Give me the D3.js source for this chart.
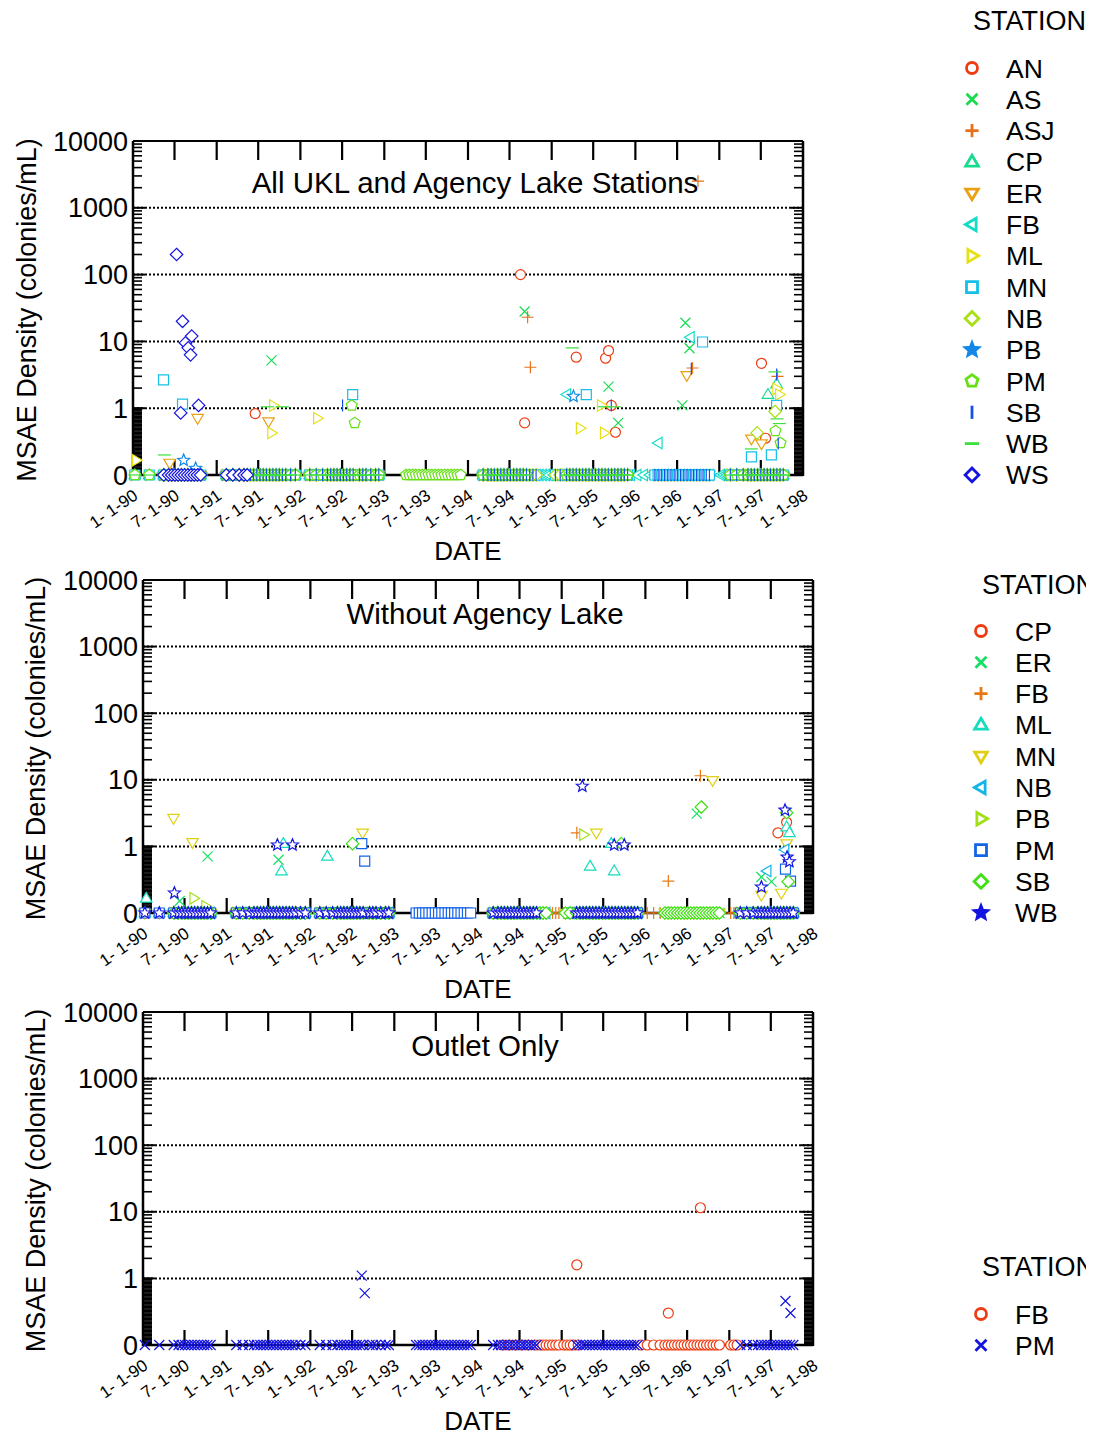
<!DOCTYPE html>
<html>
<head>
<meta charset="utf-8">
<script src="https://cdn.jsdelivr.net/npm/d3@7"></script>
<style>
  body { margin: 0; background: #fff; }
  svg text { font-family: "Liberation Sans", Arial, sans-serif; fill: #000; }
</style>
</head>
<body>
<div id="chart"></div>
<script>
var trips90w = ["90-01-09", "90-03-13"];
var trips90 = ["90-05-15", "90-06-05", "90-06-19", "90-07-03", "90-07-17", "90-07-31", "90-08-14",
  "90-08-28", "90-09-11", "90-09-25", "90-10-09", "90-10-23"];
var trips91 = ["91-02-12", "91-03-12", "91-04-09", "91-04-30", "91-05-14", "91-05-28", "91-06-11",
  "91-06-25", "91-07-09", "91-07-23", "91-08-06", "91-08-20", "91-09-03", "91-09-17", "91-10-01",
  "91-10-15", "91-10-29", "91-11-19", "91-12-10"];
var trips92 = ["92-02-11", "92-03-10", "92-04-07", "92-04-28", "92-05-12", "92-05-26", "92-06-09",
  "92-06-23", "92-07-07", "92-07-21", "92-08-04", "92-08-18", "92-09-15", "92-09-29",
  "92-10-13", "92-11-03", "92-11-24", "92-12-08"];
var trips93 = ["93-04-06", "93-04-20", "93-05-04", "93-05-18", "93-06-01", "93-06-15", "93-06-29",
  "93-07-13", "93-07-27", "93-08-10", "93-08-24", "93-09-07", "93-09-21", "93-10-05", "93-10-19",
  "93-11-02", "93-11-16", "93-11-30"];
var trips94 = ["94-03-08", "94-03-29", "94-04-12", "94-04-26", "94-05-10", "94-05-24", "94-06-07",
  "94-06-21", "94-07-05", "94-07-19", "94-08-02", "94-08-16", "94-08-30", "94-09-13"];
var trips94b = ["94-09-27", "94-10-11", "94-10-25", "95-01-17", "95-02-07"];
var tripsFB94 = ["94-04-19", "94-05-17", "94-06-14", "94-07-12", "94-08-09", "94-09-06", "94-09-27",
  "94-10-11", "94-10-25", "94-11-08", "94-11-22", "94-12-06", "94-12-20", "95-01-10", "95-01-24",
  "95-02-07", "95-02-21", "95-03-14"];
var trips95 = ["95-03-07", "95-03-21", "95-04-04", "95-04-18", "95-05-02", "95-05-16", "95-05-30",
  "95-06-13", "95-06-27", "95-07-11", "95-07-25", "95-08-08", "95-08-22", "95-09-05", "95-09-19",
  "95-10-03", "95-10-17", "95-10-31", "95-11-14", "95-11-28"];
var tripsFB96 = ["95-12-12", "96-01-09", "96-02-06", "96-03-05"];
var trips96 = ["96-03-26", "96-04-09", "96-04-23", "96-05-07", "96-05-21", "96-06-04", "96-06-18",
  "96-07-02", "96-07-16", "96-07-30", "96-08-13", "96-08-27", "96-09-10", "96-09-24", "96-10-08",
  "96-10-22", "96-11-05", "96-11-19"];
var tripsFB97 = ["97-01-07", "97-01-21", "97-02-04"];
var trips97 = ["97-02-18", "97-03-18", "97-04-15", "97-05-06", "97-05-20", "97-06-03", "97-06-17",
  "97-07-01", "97-07-15", "97-07-29", "97-08-12", "97-08-26", "97-09-09", "97-09-23", "97-10-07"];

// which trips each station was on
var tripsAN = [trips94, trips95, trips96, trips97];
var tripsAS = [trips91, trips94, trips95, trips96, trips97];
var tripsASJ = [trips94, trips95, trips96, trips97];
var tripsCP = [trips90w, trips90, trips91, trips92, trips94, trips95, trips97];
var tripsER = [trips90, trips91, trips92, trips94, trips95, trips96, trips97];
var tripsFB = [tripsFB94, tripsFB96, trips96, tripsFB97];
var tripsML = [trips90w, trips90, trips91, trips92, trips94, trips95, trips97];
var tripsMN = [trips90w, trips90, trips91, trips92, trips94, trips94b, trips95, trips96, trips97];
var tripsNB = [trips90, trips91, trips92, trips94, trips94b, trips95, trips97];
var tripsPB = [trips90, trips91, trips92, trips94, trips95, trips97];
var tripsPM = [trips90w, trips90, trips91, trips92, trips93, trips94, trips95, trips97];
var tripsSB = [trips90, trips91, trips92, trips94, trips94b, trips95, trips96, trips97];
var tripsWB = [trips90w, trips90, trips91, trips92, trips94, trips95, trips97];
var tripsWS = [trips90, trips91.slice(0, 5)];

// non-zero densities (colonies/mL)
var valAN = [["91-06-18", 0.92], ["94-08-18", 100], ["94-09-05", 0.78], ["95-04-18", 5.8], ["95-08-24", 5.6],
  ["95-09-06", 7.3], ["95-09-18", 1.1], ["95-10-06", 0.64], ["97-07-04", 4.7], ["97-07-22", 0.55]];
var valAS = [["91-08-28", 5.2], ["94-09-05", 28], ["95-09-06", 2.1], ["95-10-18", 0.78], ["96-07-24", 1.1],
  ["96-08-06", 19], ["96-08-24", 7.9]];
var valASJ = [["94-09-18", 23], ["94-09-30", 4.1], ["96-09-06", 4], ["96-09-30", 2500], ["97-09-12", 3.0]];
var valCP = [["97-08-01", 1.6], ["97-09-08", 2.3]];
var valER = [["90-06-10", 0.18], ["90-10-10", 0.85], ["91-08-15", 0.8], ["96-08-12", 3.1], ["97-05-21", 0.54],
  ["97-07-04", 0.47]];
var valFB = [["95-03-08", 1.6], ["96-04-10", 0.48], ["96-08-28", 11.5]];
var valML = [["90-01-15", 0.22], ["91-08-28", 0.63], ["91-09-05", 1.1], ["92-03-15", 0.85], ["95-05-05", 0.7],
  ["95-08-05", 1.1], ["95-08-18", 0.63], ["97-09-08", 1.95], ["97-09-20", 1.6]];
var valMN = [["90-05-14", 2.65], ["90-08-05", 1.15], ["92-08-16", 1.6], ["95-06-01", 1.6], ["96-10-20", 9.8],
  ["97-05-21", 0.27], ["97-08-16", 0.3], ["97-09-08", 1.1]];
var valNB = [["97-06-15", 0.63], ["97-09-01", 0.95]];
var valPB = [["90-08-10", 0.22], ["90-10-01", 0.1], ["95-04-06", 1.5]];
var valPM = [["92-08-12", 1.1], ["92-08-25", 0.78], ["97-09-03", 0.66], ["97-09-25", 0.48]];
var valSB = [["92-07-03", 1.1], ["95-09-18", 1.1], ["96-09-01", 3.9], ["97-09-08", 3.2], ["97-09-15", 0.47]];
var valWB = [["90-05-18", 0.3], ["91-08-10", 1.05], ["91-10-15", 1.05], ["95-04-01", 8], ["95-08-18", 1.05],
  ["95-10-01", 1.05], ["97-05-21", 0.39], ["97-09-01", 3.5], ["97-09-10", 0.84], ["97-09-20", 0.77]];
var valWS = [["90-07-10", 200], ["90-07-28", 0.93], ["90-08-05", 20], ["90-08-18", 9.5], ["90-08-30", 8],
  ["90-09-09", 6.3], ["90-09-14", 12], ["90-10-14", 1.1]];

var stationTrips = { AN: tripsAN, AS: tripsAS, ASJ: tripsASJ, CP: tripsCP, ER: tripsER, FB: tripsFB, ML: tripsML,
  MN: tripsMN, NB: tripsNB, PB: tripsPB, PM: tripsPM, SB: tripsSB, WB: tripsWB, WS: tripsWS };
var stationValues = { AN: valAN, AS: valAS, ASJ: valASJ, CP: valCP, ER: valER, FB: valFB, ML: valML,
  MN: valMN, NB: valNB, PB: valPB, PM: valPM, SB: valSB, WB: valWB, WS: valWS };

var stationsAll = ["AN", "AS", "ASJ", "CP", "ER", "FB", "ML", "MN", "NB", "PB", "PM", "SB", "WB", "WS"];
var stationsLake = ["CP", "ER", "FB", "ML", "MN", "NB", "PB", "PM", "SB", "WB"];
var stationsOutlet = ["FB", "PM"];

var coloursAll = ["#ee3c12", "#18dc50", "#e87018", "#14dc8c", "#e8a014", "#14dcc8", "#e6e014", "#14c0e8",
  "#a8e014", "#1488e8", "#64e014", "#1450e8", "#3ce03c", "#1414e0"];
var coloursLake = ["#ee3c12", "#14e064", "#e87814", "#14dcbc", "#e0d014", "#14b4e8", "#a0e014", "#1464e8",
  "#40e014", "#1414e0"];
var coloursOutlet = ["#ee3c12", "#1414e0"];

var symbolOrder = ["circle", "x", "plus", "triUp", "triDown", "triLeft", "triRight", "square", "diamond",
  "star", "pentagon", "vbar", "hbar", "diamond"];

var yTickValues = [0, 1, 10, 100, 1000, 10000];
var yTickLabels = ["0", "1", "10", "100", "1000", "10000"];
var gridValues = [1, 10, 100, 1000];

var panels = [
  { title: "All UKL and Agency Lake Stations", stations: stationsAll, colours: coloursAll,
    x0: 133, x1: 803, y0: 475, ytop: 141, titleY: 193, ylabX: 36, legX: 972, legY: 68,
    legTitleX: 973, legTitleY: 30, clipX: 1102 },
  { title: "Without Agency Lake", stations: stationsLake, colours: coloursLake,
    x0: 143, x1: 813, y0: 913, ytop: 580, titleY: 624, ylabX: 45, legX: 981, legY: 631,
    legTitleX: 982, legTitleY: 594, clipX: 1086 },
  { title: "Outlet Only", stations: stationsOutlet, colours: coloursOutlet,
    x0: 143, x1: 813, y0: 1345, ytop: 1012, titleY: 1056, ylabX: 45, legX: 981, legY: 1314,
    legTitleX: 982, legTitleY: 1276, clipX: 1086 }
];

var width = 1102, height = 1435;
var parseDate = d3.timeParse("%y-%m-%d");
var fmt = d3.timeFormat("%-m-%e-%y");
var start = new Date(1990, 0, 1), end = new Date(1998, 0, 1);
var halfYears = d3.timeMonth.every(6).range(start, d3.timeDay.offset(end, 1));

function tv(v) { return v < 1 ? v : 1 + Math.log10(v); }

function poly(pts) {
  return "M" + pts.map(function (p) { return p[0].toFixed(2) + "," + p[1].toFixed(2); }).join("L") + "Z";
}

function symbolPath(type, r) {
  var i, pts;
  switch (type) {
    case "circle":
      return "M" + r + ",0A" + r + "," + r + " 0 1,1 " + (-r) + ",0A" + r + "," + r + " 0 1,1 " + r + ",0Z";
    case "x":
      return "M" + (-r) + "," + (-r) + "L" + r + "," + r + "M" + (-r) + "," + r + "L" + r + "," + (-r);
    case "plus":
      return "M" + (-r * 1.2) + ",0L" + (r * 1.2) + ",0M0," + (-r * 1.2) + "L0," + (r * 1.2);
    case "triUp":
      return poly([[0, -r * 1.2], [r * 1.15, r * 0.75], [-r * 1.15, r * 0.75]]);
    case "triDown":
      return poly([[0, r * 1.2], [r * 1.15, -r * 0.75], [-r * 1.15, -r * 0.75]]);
    case "triLeft":
      return poly([[-r * 1.2, 0], [r * 0.75, -r * 1.15], [r * 0.75, r * 1.15]]);
    case "triRight":
      return poly([[r * 1.2, 0], [-r * 0.75, -r * 1.15], [-r * 0.75, r * 1.15]]);
    case "square":
      return poly([[-r, -r], [r, -r], [r, r], [-r, r]]);
    case "diamond":
      return poly([[0, -r * 1.25], [r * 1.25, 0], [0, r * 1.25], [-r * 1.25, 0]]);
    case "star":
      pts = [];
      for (i = 0; i < 10; i++) {
        var a = -Math.PI / 2 + i * Math.PI / 5, rr = i % 2 ? r * 0.55 : r * 1.25;
        pts.push([rr * Math.cos(a), rr * Math.sin(a)]);
      }
      return poly(pts);
    case "pentagon":
      pts = [];
      for (i = 0; i < 5; i++) {
        var b = -Math.PI / 2 + i * 2 * Math.PI / 5;
        pts.push([r * 1.15 * Math.cos(b), r * 1.15 * Math.sin(b)]);
      }
      return poly(pts);
    case "vbar":
      return "M0," + (-r * 1.2) + "L0," + (r * 1.2);
    case "hbar":
      return "M" + (-r * 1.3) + ",0L" + (r * 1.3) + ",0";
  }
}

function stationPoints(name) {
  var pts = [];
  stationTrips[name].forEach(function (list) {
    list.forEach(function (d) { pts.push({ date: parseDate(d), value: 0 }); });
  });
  stationValues[name].forEach(function (d) { pts.push({ date: parseDate(d[0]), value: d[1] }); });
  return pts;
}

var svg = d3.select("#chart").append("svg")
  .attr("width", width)
  .attr("height", height);

var defs = svg.append("defs");

panels.forEach(function (p, pi) {
  var g = svg.append("g");
  var x = d3.scaleTime().domain([start, end]).range([p.x0, p.x1]);
  var y = d3.scaleLinear().domain([0, 5]).range([p.y0, p.ytop]);

  //dotted grid
  g.selectAll(".grid")
    .data(gridValues)
  .enter().append("line")
    .attr("x1", p.x0).attr("x2", p.x1)
    .attr("y1", function (d) { return y(tv(d)); })
    .attr("y2", function (d) { return y(tv(d)); })
    .attr("stroke", "#000").attr("stroke-width", 2).attr("stroke-dasharray", "2,2");

  //minor ticks on both sides
  var minor = [];
  for (var k = 0; k <= 50; k++) minor.push(k / 50);
  [1, 10, 100, 1000].forEach(function (dec) {
    for (var m = 2; m <= 9; m++) minor.push(tv(dec * m));
  });
  var major = [1, 2, 3, 4, 5];
  [[p.x0, 1], [p.x1, -1]].forEach(function (side) {
    g.selectAll(null)
      .data(minor)
    .enter().append("line")
      .attr("x1", side[0]).attr("x2", side[0] + side[1] * 9)
      .attr("y1", function (d) { return y(d); }).attr("y2", function (d) { return y(d); })
      .attr("stroke", "#000").attr("stroke-width", 1.6);
    g.selectAll(null)
      .data(major)
    .enter().append("line")
      .attr("x1", side[0]).attr("x2", side[0] + side[1] * 12)
      .attr("y1", function (d) { return y(d); }).attr("y2", function (d) { return y(d); })
      .attr("stroke", "#000").attr("stroke-width", 2);
  });

  //x ticks top and bottom
  var inner = halfYears.slice(1, halfYears.length - 1);
  g.selectAll(null)
    .data(inner)
  .enter().append("line")
    .attr("x1", function (d) { return x(d); }).attr("x2", function (d) { return x(d); })
    .attr("y1", p.y0).attr("y2", p.y0 - 15)
    .attr("stroke", "#000").attr("stroke-width", 2.2);
  g.selectAll(null)
    .data(inner)
  .enter().append("line")
    .attr("x1", function (d) { return x(d); }).attr("x2", function (d) { return x(d); })
    .attr("y1", p.ytop).attr("y2", p.ytop + 19)
    .attr("stroke", "#000").attr("stroke-width", 2.2);

  //frame
  g.append("line").attr("x1", p.x0).attr("x2", p.x1).attr("y1", p.ytop).attr("y2", p.ytop)
    .attr("stroke", "#000").attr("stroke-width", 1.8);
  g.append("line").attr("x1", p.x0).attr("x2", p.x1).attr("y1", p.y0).attr("y2", p.y0)
    .attr("stroke", "#000").attr("stroke-width", 2.5);
  g.append("line").attr("x1", p.x0).attr("x2", p.x0).attr("y1", p.y0 + 1).attr("y2", p.ytop)
    .attr("stroke", "#000").attr("stroke-width", 2.5);
  g.append("line").attr("x1", p.x1).attr("x2", p.x1).attr("y1", p.y0 + 1).attr("y2", p.ytop)
    .attr("stroke", "#000").attr("stroke-width", 2.5);

  //y labels
  g.selectAll(null)
    .data(yTickValues)
  .enter().append("text")
    .attr("x", p.x0 - 5)
    .attr("y", function (d) { return y(tv(d)) + 9.5; })
    .attr("text-anchor", "end")
    .style("font-size", "27px")
    .text(function (d, i) { return yTickLabels[i]; });

  //x labels
  g.selectAll(null)
    .data(halfYears)
  .enter().append("text")
    .attr("transform", function (d) { return "translate(" + (x(d) + 6) + "," + (p.y0 + 23) + ") rotate(-35)"; })
    .attr("text-anchor", "end")
    .style("font-size", "17px")
    .style("white-space", "pre")
    .text(function (d) { return fmt(d); });

  g.append("text")
    .attr("x", (p.x0 + p.x1) / 2).attr("y", p.y0 + 85)
    .attr("text-anchor", "middle").style("font-size", "26px")
    .text("DATE");

  g.append("text")
    .attr("transform", "translate(" + p.ylabX + "," + ((p.y0 + p.ytop) / 2 + 2) + ") rotate(-90)")
    .attr("text-anchor", "middle").style("font-size", "27px")
    .text("MSAE Density (colonies/mL)");

  g.append("text")
    .attr("x", (p.x0 + p.x1) / 2 + 7).attr("y", p.titleY)
    .attr("text-anchor", "middle").style("font-size", "29.5px")
    .text(p.title);

  //markers
  p.stations.forEach(function (s, i) {
    var type = symbolOrder[i];
    var open = (type !== "x" && type !== "plus" && type !== "vbar" && type !== "hbar");
    g.selectAll(null)
      .data(stationPoints(s))
    .enter().append("path")
      .attr("transform", function (d) { return "translate(" + x(d.date) + "," + y(tv(d.value)) + ")"; })
      .attr("d", symbolPath(type, 5))
      .attr("fill", open ? "#fff" : "none")
      .attr("stroke", p.colours[i])
      .attr("stroke-width", 1.2);
  });

  //legend (the lower two legend titles are cut at the right like the source image)
  defs.append("clipPath").attr("id", "legclip" + pi)
    .append("rect").attr("x", 0).attr("y", 0).attr("width", p.clipX).attr("height", height);
  g.append("text")
    .attr("x", p.legTitleX).attr("y", p.legTitleY)
    .attr("clip-path", "url(#legclip" + pi + ")")
    .style("font-size", "27px")
    .text("STATION");
  var leg = g.selectAll(".leg")
    .data(p.stations)
  .enter().append("g")
    .attr("transform", function (d, i) { return "translate(" + p.legX + "," + (p.legY + i * 31.3) + ")"; });
  leg.append("path")
    .attr("d", function (d, i) { return symbolPath(symbolOrder[i], 5.5); })
    .attr("fill", function (d, i) { return symbolOrder[i] === "star" ? p.colours[i] : "none"; })
    .attr("stroke", function (d, i) { return p.colours[i]; })
    .attr("stroke-width", 2.8);
  leg.append("text")
    .attr("x", 34).attr("y", 9.5)
    .style("font-size", "26.5px")
    .text(function (d) { return d; });
});
</script>
</body>
</html>
